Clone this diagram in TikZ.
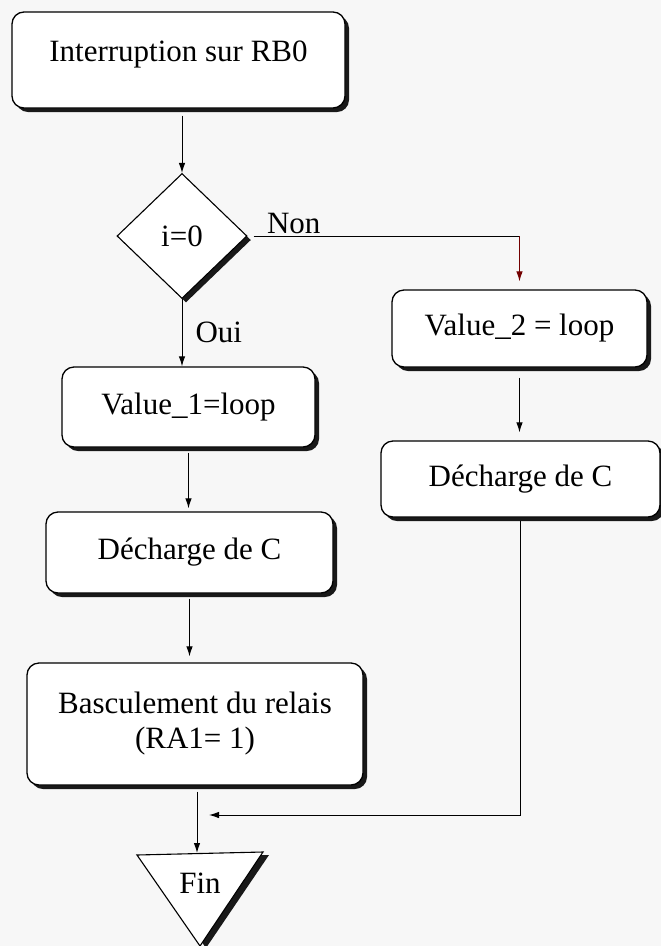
\documentclass[tikz,border=0pt]{standalone}
\usepackage{fontspec}
\setmainfont{Liberation Serif}
\usetikzlibrary{shapes.geometric, arrows.meta, shadows, calc}

\begin{document}
\begin{tikzpicture}[x=1pt, y=-1pt,
  font=\fontsize{31}{35}\selectfont,
  line width=1.3pt,
  proc/.style={draw, rounded corners=12pt, fill=white, inner sep=0pt, align=center,
    drop shadow={shadow xshift=4pt, shadow yshift=-4pt, fill=black!90, opacity=1}},
  decision/.style={diamond, draw, fill=white, inner sep=0pt, line width=1.1pt,
    minimum width=130pt, minimum height=125pt,
    drop shadow={shadow xshift=4pt, shadow yshift=-4pt, fill=black!90, opacity=1}},
  arr/.style={line width=1pt, -{Latex[length=10pt,width=6.5pt]}},
  tag/.style={inner sep=1.5pt}
]
  % paper
  \fill[black!3] (0,0) rectangle (661,946);
  \useasboundingbox (0,0) rectangle (661,946);

  % process boxes
  \node[proc, minimum width=333pt, minimum height=96pt, text depth=18pt] (start) at (178.5,60) {Interruption sur RB0};
  \node[decision] (test) at (182,236) {i=0};
  \node[proc, minimum width=253pt, minimum height=80pt] (v1) at (188.5,407) {Value\_1=loop};
  \node[proc, minimum width=255pt, minimum height=77pt] (v2) at (519.5,328.5) {Value\_2 = loop};
  \node[proc, minimum width=287pt, minimum height=81pt] (d1) at (189.5,552.5) {Décharge de C};
  \node[proc, minimum width=279pt, minimum height=76pt] (d2) at (520.5,479) {Décharge de C};
  \node[proc, minimum width=336pt, minimum height=122pt] (relais) at (195,724) {Basculement du relais\\(RA1= 1)};

  % end terminal: downward triangle with its shadow
  \fill[black!90] (143,858) -- (269,855) -- (206,948) -- cycle;
  \filldraw[fill=white, line width=1.1pt] (137,855) -- (263,852) -- (200,946) -- cycle;
  \node (fin) at (200,883) {Fin};
  \coordinate (fintop) at (197,853);

  % connectors
  \draw[arr, shorten <=7pt] (start.south -| test.north) -- (test.north);
  \draw[arr] (test.south) -- (test.south |- v1.north)
    node[midway, right=13pt, inner sep=0pt] {Oui};
  \coordinate (nonc) at (test.east -| v2.north);
  \draw[line width=1pt, shorten <=6pt] (test.east) -- (nonc)
    node[pos=0.17, above, tag] {Non};
  \draw[arr, draw=red!45!black] (nonc) -- ($(v2.north)+(0,-8)$);
  \draw[arr, shorten <=10pt, shorten >=8pt] (v2.south) -- (v2.south |- d2.north);
  \draw[arr, shorten <=5pt, shorten >=3pt] (v1.south) -- (v1.south |- d1.north);
  \draw[arr, shorten <=5pt, shorten >=6pt] (d1.south) -- (d1.south |- relais.north);
  \draw[arr, shorten <=6pt] (relais.south -| fintop) -- (fintop);
  \coordinate (join) at (209,815);
  \draw[arr, shorten <=3pt] (d2.south) |- (join);
\end{tikzpicture}
\end{document}
